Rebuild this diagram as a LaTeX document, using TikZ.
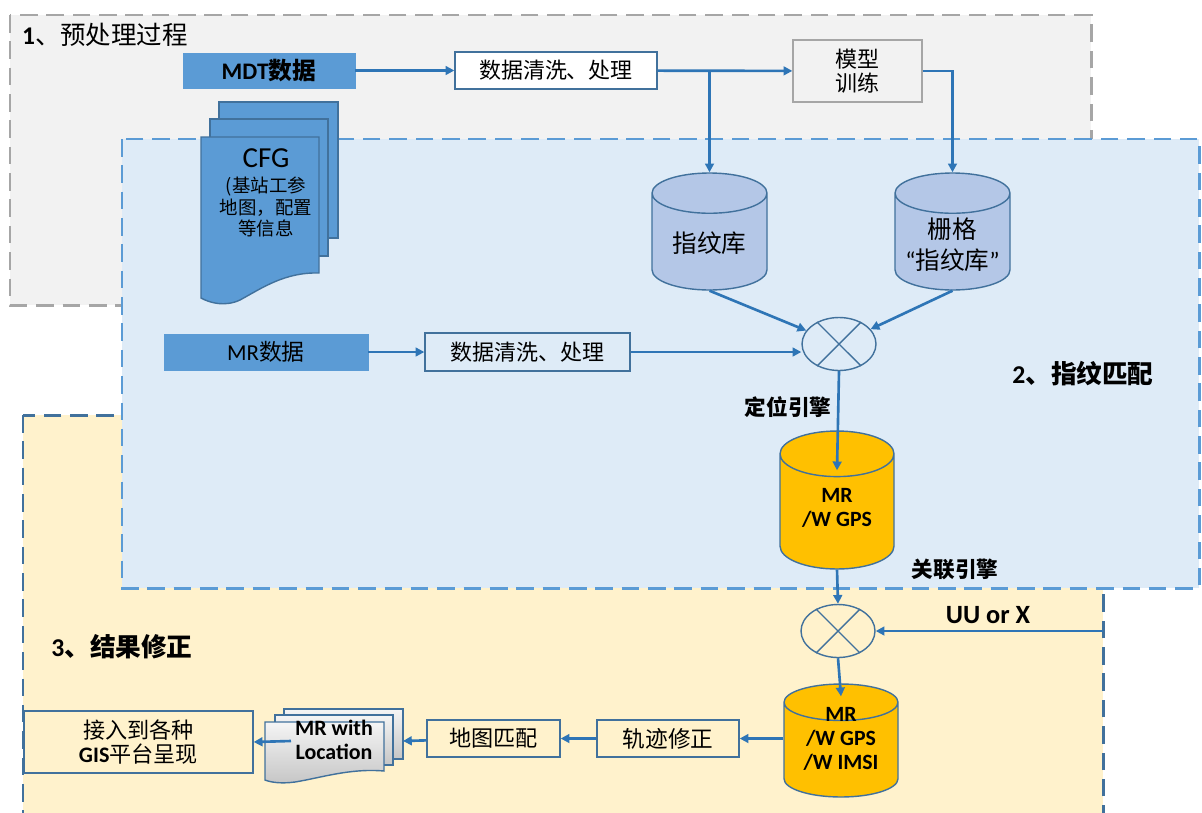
\documentclass[tikz,border=0pt]{standalone}
\usepackage{fontspec}
\setmainfont{Carlito}
\newfontfamily\cjk{Noto Sans CJK SC}
\newcommand{\zh}[1]{{\cjk #1}}
\usetikzlibrary{shapes.geometric,arrows.meta,calc}

\definecolor{pregray}{HTML}{F2F2F2}
\definecolor{zonegray}{HTML}{A6A6A6}
\definecolor{matchblue}{HTML}{DEEBF7}
\definecolor{fixyellow}{HTML}{FFF2CC}
\definecolor{datablue}{HTML}{5B9BD5}
\definecolor{boxblue}{HTML}{41719C}
\definecolor{arrowblue}{HTML}{2E75B6}
\definecolor{storeblue}{HTML}{B4C7E7}
\definecolor{gold}{HTML}{FFC000}

\begin{document}
\begin{tikzpicture}[x=0.02cm, y=-0.02cm,
  zone/.style={line width=1.7pt, dash pattern=on 10pt off 5pt},
  link/.style={draw=arrowblue, line width=1.5pt, -{Triangle[length=5pt,width=5pt]}},
  flowbox/.style={draw=boxblue, line width=0.8pt, inner sep=0pt},
  datablock/.style={draw=datablue, fill=datablue, inner sep=0pt},
  store/.style={cylinder, shape border rotate=90, aspect=0.35, draw=boxblue,
    line width=0.8pt, inner sep=0pt, anchor=shape center},
  mixer/.style={ellipse, draw=boxblue, line width=0.8pt, inner sep=0pt,
    minimum width=1.48cm, minimum height=1.06cm},
  docline/.style={draw=boxblue, line width=0.8pt},
  title/.style={font=\bfseries\fontsize{14.6pt}{17pt}\selectfont},
  engine/.style={font=\bfseries\fontsize{12.3pt}{15pt}\selectfont},
]
\useasboundingbox (0,0) rectangle (1202,812);

% zones
\draw[zone, draw=zonegray, fill=pregray] (10,15) rectangle (1091,305);
\draw[zone, draw=boxblue, fill=fixyellow] (23,415) rectangle (1103,830);
\draw[zone, draw=datablue, fill=matchblue] (122,139) rectangle (1199,588);

\node[font=\fontsize{14.5pt}{17pt}\selectfont] (t1) at (105,35) {\textbf{1}\zh{、预处理过程}};
\node[title] (t2) at (1083,374) {2\zh{、指纹匹配}};
\node[title] (t3) at (122,647) {3\zh{、结果修正}};

% preprocessing
\node[datablock, minimum width=3.44cm, minimum height=0.7cm,
  font=\bfseries\fontsize{13.5pt}{15pt}\selectfont] (mdt) at (269,70.5) {MDT\zh{数据}};
\node[flowbox, fill=white, minimum width=4.04cm, minimum height=0.74cm,
  font=\fontsize{12.5pt}{15pt}\selectfont] (clean1) at (556,70.5) {\zh{数据清洗、处理}};
\node[flowbox, draw=zonegray, fill=pregray, minimum width=2.58cm, minimum height=1.24cm,
  align=center, font=\fontsize{12.5pt}{13.6pt}\selectfont] (train) at (857.5,71) {\zh{模型}\\\zh{训练}};

% CFG pages
\draw[docline, fill=datablue] (219,102) rectangle (338,238);
\draw[docline, fill=datablue] (210,119) rectangle (328,256);
\draw[docline, fill=datablue] (201,137) -- (319,137) -- (319,273)
  .. controls (285,272) and (262,288) .. (240,300)
  .. controls (225,307) and (210,303) .. (201,298) -- cycle;
\node[font=\fontsize{16.5pt}{20pt}\selectfont] (cfg) at (266,158) {CFG};
\node[align=center, font=\fontsize{10.5pt}{12.2pt}\selectfont] (cfginfo) at (266,207)
  {\zh{(基站工参}\\\zh{地图，配置}\\\zh{等信息}};

% fingerprint stores
\node[store, fill=storeblue, minimum height=2.34cm] (fp) at (709.5,231.5) {\hspace*{2.3cm}};
\node[font=\fontsize{14pt}{17pt}\selectfont] (fptext) at (709.5,243) {\zh{指纹库}};
\node[store, fill=storeblue, minimum height=2.34cm] (grid) at (952.5,231.5) {\hspace*{2.3cm}};
\node[align=center, font=\fontsize{14pt}{17.5pt}\selectfont] (gridtext) at (952.5,244.5)
  {\zh{栅格}\\“\zh{指纹库}”};

% matching
\node[datablock, minimum width=4.08cm, minimum height=0.72cm,
  font=\fontsize{13pt}{15pt}\selectfont] (mr) at (266,352) {MR\zh{数据}};
\node[flowbox, minimum width=4.1cm, minimum height=0.76cm,
  font=\fontsize{12.5pt}{15pt}\selectfont] (clean2) at (527.5,352) {\zh{数据清洗、处理}};
\node[mixer] (mix1) at (839,344) {};
\draw[boxblue, line width=0.8pt] (mix1.45) -- (mix1.225) (mix1.135) -- (mix1.315);
\node[store, aspect=0.4, fill=gold, minimum height=2.76cm] (gps) at (837,500) {\hspace*{2.28cm}};
\node[align=center, font=\bfseries\fontsize{12.4pt}{14pt}\selectfont] (gpstext) at (837,508) {MR\\/W GPS};
\node[engine] (locate) at (788,407) {\zh{定位引擎}};
\node[engine] (assoc) at (955,569) {\zh{关联引擎}};

% correction
\node[mixer] (mix2) at (838,631) {};
\draw[boxblue, line width=0.8pt] (mix2.45) -- (mix2.225) (mix2.135) -- (mix2.315);
\coordinate (uu) at (1103,631);
\node[font=\bfseries\fontsize{15pt}{17pt}\selectfont] (uulabel) at (988,615) {UU or X};
\node[store, aspect=0.32, fill=gold, minimum height=2.26cm] (imsi) at (841,740.5) {\hspace*{2.28cm}};
\node[align=center, font=\bfseries\fontsize{12.4pt}{13.5pt}\selectfont] (imsitext) at (841,739)
  {MR\\/W GPS\\/W IMSI};
\node[flowbox, minimum width=2.84cm, minimum height=0.74cm,
  font=\fontsize{12.9pt}{15pt}\selectfont] (track) at (668,738.5) {\zh{轨迹修正}};
\node[flowbox, minimum width=2.66cm, minimum height=0.74cm,
  font=\fontsize{12.6pt}{15pt}\selectfont] (mapm) at (493.5,738.5) {\zh{地图匹配}};

% MR with Location pages
\draw[docline, top color=gray!8, bottom color=gray!45] (284,709) rectangle (403,759);
\draw[docline, top color=gray!8, bottom color=gray!45] (275,715) rectangle (393,765);
\draw[docline, top color=gray!8, bottom color=gray!45] (265,722) -- (384,722) -- (384,771)
  .. controls (350,768) and (320,778) .. (295,782)
  .. controls (280,784) and (270,782) .. (265,780) -- cycle;
\node[align=center, font=\bfseries\fontsize{12.5pt}{14pt}\selectfont] (loc) at (334,740) {MR with\\Location};
\coordinate (locin) at (403,741);
\coordinate (locout) at (291,741);
\node[flowbox, minimum width=4.58cm, minimum height=1.24cm, align=center,
  font=\fontsize{12.6pt}{14pt}\selectfont] (gis) at (138.5,742)
  {\zh{接入到各种}\\\textbf{GIS}\zh{平台呈现}};

% connectors
\draw[link] (mdt) -- (clean1);
\draw[link] (clean1) -- (train);
\draw[link] (clean1.east -| fp.north) -- (fp.north);
\draw[link] (train.east) -| (grid.north);
\draw[link] (mr) -- (clean2);
\draw[link] (clean2) -- (mix1.west |- clean2.east);
\draw[link] (fp.south) -- (mix1);
\draw[link] (grid.south) -- (mix1);
\draw[link] (mix1.south) -- ($(gps.north)+(0,40)$);
\draw[link] (gps.south) -- (mix2.north);
\draw[link] (uu) -- (mix2.east);
\draw[link] (mix2.south) -- ($(imsi.north)+(0,13)$);
\draw[link] (imsi.west |- track.east) -- (track.east);
\draw[link] (track) -- (mapm);
\draw[link] (mapm) -- (locin);
\draw[link] (locout) -- (gis.east);
\end{tikzpicture}
\end{document}
